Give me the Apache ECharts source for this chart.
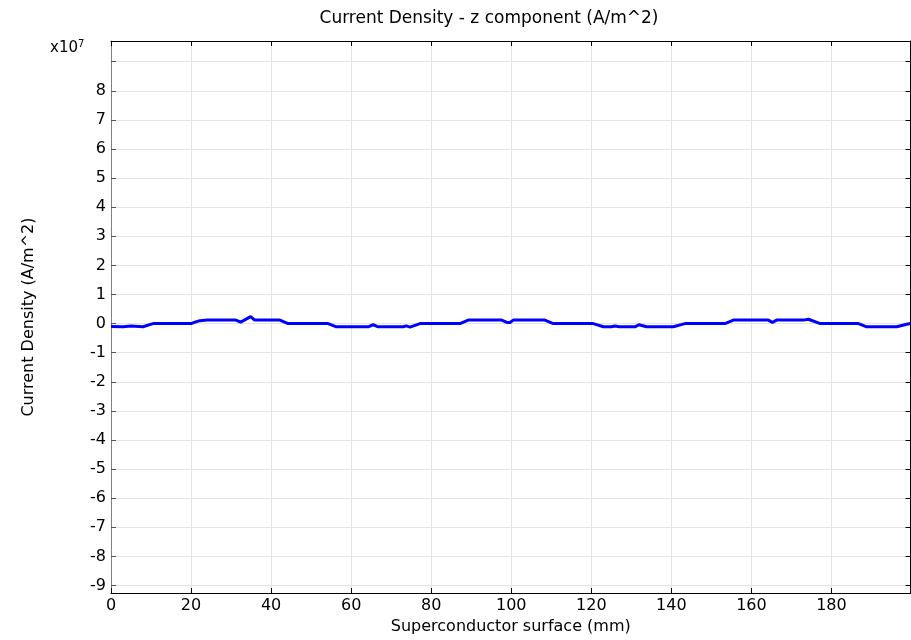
<!DOCTYPE html>
<html>
<head>
<meta charset="utf-8">
<script src="https://cdn.jsdelivr.net/npm/echarts@6/dist/echarts.min.js"></script>
<style>html,body{margin:0;padding:0;background:#fff;}#c{width:911px;height:640px;}</style>
</head>
<body>
<div id="c"></div>
<script>
// Position along superconductor surface (mm)
const xPos = [0, 3, 5, 8, 10.5, 20, 21, 22.2, 24, 31.2, 32.4, 34.9, 35.9, 42.2, 44.25, 54.25, 56.3, 64.25, 65.5, 66.75, 73, 73.8, 74.7, 77.2, 87.2, 89.25, 97.6, 98.9, 99.7, 100.5, 108.4, 110.5, 120.5, 123, 125, 125.9, 127, 130.9, 131.9, 133.8, 140.5, 143.4, 153.4, 155.5, 164.25, 165.25, 166.3, 173, 174.25, 177.2, 186.75, 188.8, 196.3, 198.8, 199.75];
// Current density z component, in units of 1e7 A/m^2
const jz = [-0.10, -0.11, -0.08, -0.11, 0.0, 0.0, 0.05, 0.10, 0.12, 0.12, 0.05, 0.24, 0.12, 0.12, 0.0, 0.0, -0.11, -0.11, -0.04, -0.11, -0.11, -0.08, -0.12, 0.0, 0.0, 0.12, 0.12, 0.04, 0.04, 0.12, 0.12, 0.0, 0.0, -0.11, -0.11, -0.08, -0.11, -0.11, -0.04, -0.11, -0.11, 0.0, 0.0, 0.12, 0.12, 0.04, 0.12, 0.12, 0.15, 0.0, 0.0, -0.11, -0.11, -0.02, 0.0];
const yTicks = [-9, -8, -7, -6, -5, -4, -3, -2, -1, 0, 1, 2, 3, 4, 5, 6, 7, 8, 9];
const yTickLabels = [-9, -8, -7, -6, -5, -4, -3, -2, -1, 0, 1, 2, 3, 4, 5, 6, 7, 8];
const xTicks = [0, 20, 40, 60, 80, 100, 120, 140, 160, 180];
const titleText = 'Current Density - z component (A/m^2)';
const xName = 'Superconductor surface (mm)';
const yName = 'Current Density (A/m^2)';

const font = 'DejaVu Sans';
const X_MIN = 0, X_MAX = 199.75, Y_MIN = -9.26, Y_MAX = 9.71;

const chart = echarts.init(document.getElementById('c'), null, {renderer: 'canvas'});
const split = {show: true, lineStyle: {color: '#e4e4e4', width: 1}};
chart.setOption({
  animation: false,
  backgroundColor: '#fff',
  title: {
    text: titleText, left: 484, top: 5, textAlign: 'center',
    textStyle: {fontFamily: font, fontSize: 17, fontWeight: 'normal', color: '#000'}
  },
  graphic: [{
    type: 'text', left: 50, top: 39,
    style: {
      text: '{a|x10}{b|7}',
      rich: {
        a: {fontFamily: font, fontSize: 15, fill: '#000'},
        b: {fontFamily: font, fontSize: 10, fill: '#000', verticalAlign: 'bottom', padding: [0, 0, 9, 0]}
      }
    }
  }],
  grid: {left: 111, right: 0.5, top: 41, bottom: 42, containLabel: false},
  xAxis: [{
    type: 'value', min: X_MIN, max: X_MAX,
    name: xName, nameLocation: 'middle', nameGap: 23,
    nameTextStyle: {fontFamily: font, fontSize: 16, color: '#000'},
    axisLine: {show: true, onZero: false, lineStyle: {color: '#000', width: 1}},
    axisTick: {show: true, inside: true, length: 5, lineStyle: {color: '#000'}, customValues: xTicks},
    axisLabel: {fontFamily: font, fontSize: 16, color: '#000', margin: 5, customValues: xTicks},
    splitLine: split
  }, {
    type: 'value', position: 'top', min: X_MIN, max: X_MAX,
    axisLine: {show: true, onZero: false, lineStyle: {color: '#000', width: 1}},
    axisTick: {show: true, inside: true, length: 5, lineStyle: {color: '#000'}, customValues: xTicks},
    axisLabel: {show: false, customValues: xTicks}, splitLine: {show: false}
  }],
  yAxis: [{
    type: 'value', min: Y_MIN, max: Y_MAX,
    name: yName, nameLocation: 'middle', nameGap: 74, nameRotate: 90,
    nameTextStyle: {fontFamily: font, fontSize: 16, color: '#000'},
    axisLine: {show: true, onZero: false, lineStyle: {color: '#808080', width: 1}},
    axisTick: {show: true, inside: true, length: 5, lineStyle: {color: '#555'}, customValues: yTicks},
    axisLabel: {fontFamily: font, fontSize: 16, color: '#000', margin: 5, customValues: yTickLabels},
    splitLine: split
  }, {
    type: 'value', position: 'right', min: Y_MIN, max: Y_MAX,
    axisLine: {show: true, onZero: false, lineStyle: {color: '#000', width: 1}},
    axisTick: {show: true, inside: true, length: 5, lineStyle: {color: '#000'}, customValues: yTicks},
    axisLabel: {show: false, customValues: yTickLabels}, splitLine: {show: false}
  }],
  series: [{
    type: 'line', xAxisIndex: 0, yAxisIndex: 0,
    data: xPos.map((x, i) => [x, jz[i]]),
    showSymbol: false, symbol: 'none',
    lineStyle: {color: '#0000ff', width: 3},
    itemStyle: {color: '#0000ff'}
  }]
});
</script>
</body>
</html>
